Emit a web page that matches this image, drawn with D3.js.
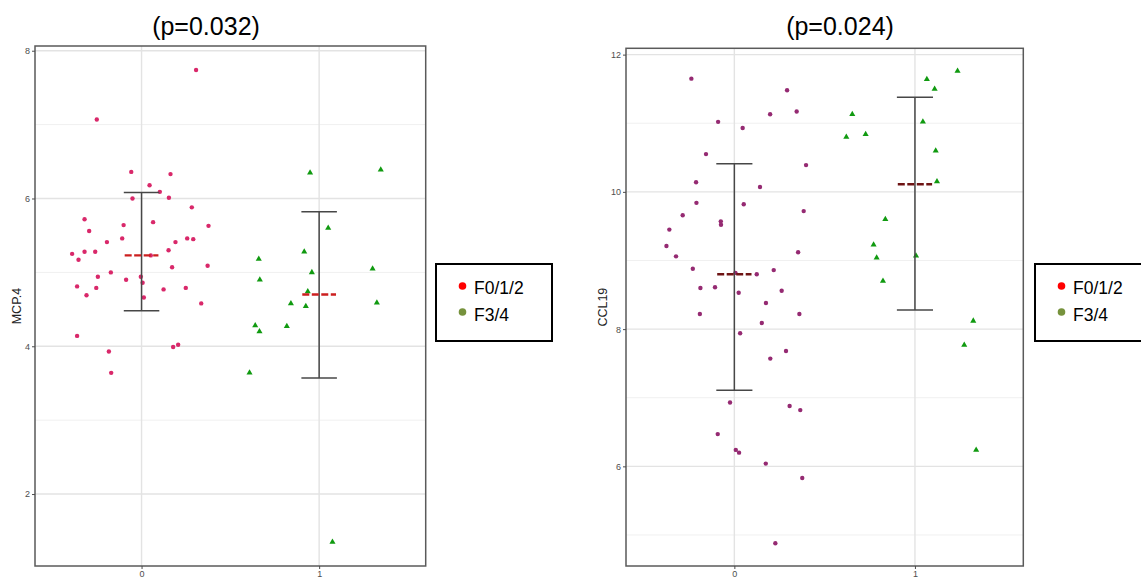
<!DOCTYPE html>
<html>
<head>
<meta charset="utf-8">
<script src="https://cdn.jsdelivr.net/npm/d3@7"></script>
<style>
  body { margin: 0; background: #fff; }
  svg { display: block; font-family: "Liberation Sans", Arial, sans-serif; }
</style>
</head>
<body>
<svg id="chart" width="1141" height="580"></svg>
<script>
// Fibrosis groups on the x axis (0 = F0/1/2, 1 = F3/4)
const groupTicks = [0, 1];
const legendLabels = ["F0/1/2", "F3/4"];

// MCP.4 — jittered x positions and measured values
const mcp4F012X = [0.307, -0.252, -0.058, 0.163, 0.045, 0.103, -0.051, 0.154, 0.283, -0.321,
  0.065, -0.101, 0.377, -0.295, -0.109, -0.195, 0.257, 0.291, 0.191, -0.391,
  -0.321, -0.261, -0.355, 0.052, 0.152, 0.372, 0.172, -0.173, -0.246, -0.087,
  -0.004, 0.006, -0.363, -0.255, 0.124, 0.249, -0.310, 0.013, 0.336, -0.363,
  -0.184, -0.171, 0.178, 0.206];
const mcp4F012Y = [7.74, 7.07, 6.36, 6.33, 6.18, 6.09, 6.00, 6.01, 5.88, 5.72,
  5.68, 5.64, 5.63, 5.56, 5.46, 5.41, 5.46, 5.45, 5.41, 5.25,
  5.28, 5.28, 5.17, 5.23, 5.30, 5.09, 5.07, 5.00, 4.94, 4.90,
  4.94, 4.86, 4.81, 4.79, 4.77, 4.79, 4.69, 4.66, 4.58, 4.14,
  3.93, 3.64, 3.99, 4.02];
const mcp4F34X = [0.949, 1.347, 1.051, 0.916, 0.660, 1.301, 0.959, 0.666, 0.936,
  0.841, 0.925, 1.325, 0.640, 0.664, 0.818, 0.608, 1.075];
const mcp4F34Y = [6.35, 6.39, 5.60, 5.28, 5.18, 5.05, 5.00, 4.90, 4.74,
  4.58, 4.54, 4.59, 4.28, 4.20, 4.27, 3.64, 1.35];
const mcp4Mean = [5.23, 4.70];
const mcp4Lower = [4.48, 3.57];
const mcp4Upper = [6.08, 5.82];

// CCL19 — jittered x positions and measured values
const ccl19F012X = [-0.238, 0.292, 0.198, 0.345, -0.090, 0.046, -0.157, 0.397, -0.212, 0.142,
  -0.210, 0.052, -0.286, 0.384, -0.075, -0.074, -0.360, -0.376, -0.323, 0.353,
  -0.230, 0.218, 0.124, 0.006, -0.188, -0.107, 0.024, 0.262, 0.175, -0.191,
  0.360, 0.152, 0.032, 0.286, 0.199, -0.024, 0.306, 0.365, -0.092, 0.008,
  0.026, 0.174, 0.376, 0.227];
const ccl19F012Y = [11.65, 11.48, 11.13, 11.17, 11.02, 10.93, 10.55, 10.39, 10.14, 10.07,
  9.84, 9.82, 9.66, 9.72, 9.57, 9.52, 9.45, 9.21, 9.06, 9.12,
  8.88, 8.86, 8.80, 8.82, 8.60, 8.61, 8.53, 8.56, 8.38, 8.22,
  8.22, 8.09, 7.94, 7.68, 7.57, 6.93, 6.88, 6.82, 6.47, 6.24,
  6.20, 6.04, 5.83, 4.88];
const ccl19F34X = [1.236, 1.066, 1.109, 0.653, 1.044, 0.620, 0.727, 1.115, 1.122,
  0.836, 0.771, 0.788, 1.006, 0.823, 1.323, 1.273, 1.339];
const ccl19F34Y = [11.76, 11.64, 11.50, 11.13, 11.02, 10.80, 10.84, 10.60, 10.15,
  9.60, 9.23, 9.04, 9.07, 8.70, 8.12, 7.77, 6.24];
const ccl19Mean = [8.80, 10.11];
const ccl19Lower = [7.11, 8.28];
const ccl19Upper = [10.41, 11.38];

const svg = d3.select("#chart");

function drawPanel(cfg) {
  const x = d3.scaleLinear().domain([-0.6, 1.6]).range([cfg.left, cfg.right]);
  const y = d3.scaleLinear().domain(cfg.yDomain).range([cfg.bottom, cfg.top]);
  const g = svg.append("g");

  // background grid
  g.selectAll(".minor").data(cfg.minorTicks).enter().append("line")
    .attr("x1", cfg.left).attr("x2", cfg.right)
    .attr("y1", d => y(d)).attr("y2", d => y(d))
    .attr("stroke", "#f0f0f0").attr("stroke-width", 1);
  g.selectAll(".major").data(cfg.majorTicks).enter().append("line")
    .attr("x1", cfg.left).attr("x2", cfg.right)
    .attr("y1", d => y(d)).attr("y2", d => y(d))
    .attr("stroke", "#e3e3e3").attr("stroke-width", 1.4);
  g.selectAll(".vmajor").data(groupTicks).enter().append("line")
    .attr("x1", d => x(d)).attr("x2", d => x(d))
    .attr("y1", cfg.top).attr("y2", cfg.bottom)
    .attr("stroke", "#e3e3e3").attr("stroke-width", 1.4);

  // points
  const circ = cfg.f012X.map((v, i) => ({ x: v, y: cfg.f012Y[i] }));
  g.selectAll(".c").data(circ).enter().append("circle")
    .attr("cx", d => x(d.x)).attr("cy", d => y(d.y)).attr("r", 2.2)
    .attr("fill", cfg.circleColor);
  const tri = cfg.f34X.map((v, i) => ({ x: v, y: cfg.f34Y[i] }));
  const triPath = d3.symbol().type(d3.symbolTriangle).size(16);
  g.selectAll(".t").data(tri).enter().append("path")
    .attr("d", triPath)
    .attr("transform", d => `translate(${x(d.x)},${y(d.y)})`)
    .attr("fill", "#109a10");

  // error bars
  groupTicks.forEach((grp, i) => {
    const eb = g.append("g").attr("stroke", "#474747").attr("stroke-width", 1.5);
    eb.append("line").attr("x1", x(grp)).attr("x2", x(grp))
      .attr("y1", y(cfg.lower[i])).attr("y2", y(cfg.upper[i]));
    [cfg.lower[i], cfg.upper[i]].forEach(v => {
      eb.append("line").attr("x1", x(grp - 0.1)).attr("x2", x(grp + 0.1))
        .attr("y1", y(v)).attr("y2", y(v));
    });
    g.append("line").attr("x1", x(grp - 0.095)).attr("x2", x(grp + 0.095))
      .attr("y1", y(cfg.mean[i])).attr("y2", y(cfg.mean[i]))
      .attr("stroke", cfg.meanColor).attr("stroke-width", 2.4)
      .attr("stroke-dasharray", "7,2.5");
  });

  // panel border
  g.append("rect").attr("x", cfg.left).attr("y", cfg.top)
    .attr("width", cfg.right - cfg.left).attr("height", cfg.bottom - cfg.top)
    .attr("fill", "none").attr("stroke", "#5a5a5a").attr("stroke-width", 1.5);

  // axes
  const fmt = d3.format("d");
  const ya = g.append("g").attr("transform", `translate(${cfg.left},0)`)
    .call(d3.axisLeft(y).tickValues(cfg.majorTicks).tickFormat(fmt).tickSize(3).tickPadding(2));
  const xa = g.append("g").attr("transform", `translate(0,${cfg.bottom})`)
    .call(d3.axisBottom(x).tickValues(groupTicks).tickFormat(fmt).tickSize(3).tickPadding(2));
  [ya, xa].forEach(a => {
    a.select(".domain").remove();
    a.selectAll("text").attr("fill", "#4d4d4d").style("font-size", "9px")
      .style("font-family", "Liberation Sans, Arial, sans-serif");
    a.selectAll("line").attr("stroke", "#4d4d4d");
  });

  // y label
  svg.append("text")
    .attr("transform", `translate(${cfg.yLabelX},${(cfg.top + cfg.bottom) / 2}) rotate(-90)`)
    .attr("text-anchor", "middle").attr("dy", "0.35em")
    .style("font-size", "12.5px").attr("fill", "#222")
    .text(cfg.yLabel);

  // title
  svg.append("text")
    .attr("x", cfg.titleX).attr("y", 35)
    .attr("text-anchor", "middle")
    .style("font-size", "25px").attr("fill", "#000")
    .text(cfg.title);

  // legend
  const lg = svg.append("g");
  lg.append("rect").attr("x", cfg.legendX).attr("y", 264)
    .attr("width", 116).attr("height", 77)
    .attr("fill", "#fff").attr("stroke", "#000").attr("stroke-width", 2);
  const legendColors = ["#ff0000", "#76923c"];
  legendLabels.forEach((lab, i) => {
    lg.append("circle").attr("cx", cfg.legendX + 26.5).attr("cy", 286 + i * 26)
      .attr("r", 3.8).attr("fill", legendColors[i]);
    lg.append("text").attr("x", cfg.legendX + 38).attr("y", 294 + i * 26.5)
      .style("font-size", "17.5px").attr("fill", "#000").text(lab);
  });
}

drawPanel({
  left: 35, right: 425.7, top: 46, bottom: 566,
  yDomain: [1.026, 8.064], majorTicks: [2, 4, 6, 8], minorTicks: [3, 5, 7],
  f012X: mcp4F012X, f012Y: mcp4F012Y, f34X: mcp4F34X, f34Y: mcp4F34Y,
  mean: mcp4Mean, lower: mcp4Lower, upper: mcp4Upper,
  circleColor: "#d9286a", meanColor: "#cc1f1f",
  yLabel: "MCP.4", yLabelX: 16.5, title: "(p=0.032)", titleX: 206, legendX: 436
});

drawPanel({
  left: 626, right: 1023.3, top: 48.3, bottom: 566,
  yDomain: [4.548, 12.092], majorTicks: [6, 8, 10, 12], minorTicks: [5, 7, 9, 11],
  f012X: ccl19F012X, f012Y: ccl19F012Y, f34X: ccl19F34X, f34Y: ccl19F34Y,
  mean: ccl19Mean, lower: ccl19Lower, upper: ccl19Upper,
  circleColor: "#952a72", meanColor: "#6e1414",
  yLabel: "CCL19", yLabelX: 602.5, title: "(p=0.024)", titleX: 840, legendX: 1035
});
</script>
</body>
</html>
